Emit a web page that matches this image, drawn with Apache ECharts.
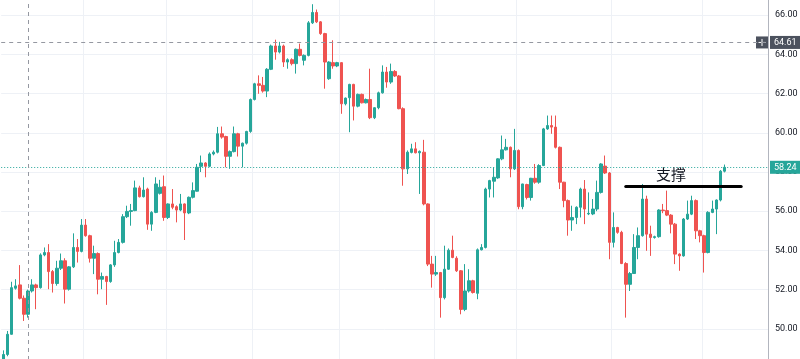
<!DOCTYPE html>
<html><head><meta charset="utf-8">
<script src="https://cdn.jsdelivr.net/npm/echarts@6/dist/echarts.min.js"></script>
<style>html,body{margin:0;padding:0;background:#fff}#c{width:800px;height:359px}</style>
</head><body><div id="c"></div>
<script>
// ---- data ----
const opens = [48.30,48.69,49.72,52.07,52.24,51.56,50.74,51.93,52.24,52.10,53.77,53.89,52.92,52.31,53.09,53.47,52.02,53.16,54.15,53.95,
55.29,54.75,53.60,53.84,52.53,52.67,52.41,53.26,53.89,54.41,55.72,55.99,56.03,57.19,56.74,57.13,55.34,55.94,56.91,57.25,
55.68,56.37,56.23,56.06,56.37,55.91,56.71,57.02,58.29,58.46,58.29,58.92,59.01,59.95,59.81,58.80,59.04,59.95,59.32,59.47,
60.07,61.70,62.50,62.42,62.13,63.24,64.43,64.12,64.43,63.61,63.73,63.53,64.26,63.70,63.95,65.61,66.14,65.66,65.06,62.76,
63.58,63.41,63.58,61.48,61.79,62.47,61.36,61.96,61.53,61.70,60.77,61.28,62.04,63.10,62.59,63.13,62.90,61.23,58.16,59.00,
59.18,58.98,59.01,56.37,53.30,52.79,52.87,51.59,53.04,54.01,53.60,52.96,50.99,51.93,52.45,51.81,54.03,54.15,57.13,57.53,
57.70,58.67,59.13,59.26,58.16,59.10,56.23,57.36,56.70,57.68,57.48,58.33,60.20,60.37,60.29,59.26,57.48,56.54,55.55,55.68,
56.20,57.13,55.86,55.86,56.11,56.96,58.30,57.95,54.41,55.17,54.92,53.33,52.27,52.82,54.15,54.75,56.62,54.83,54.66,54.70,
56.06,56.03,55.80,55.34,53.81,53.72,55.60,55.85,56.54,55.00,54.75,53.89,55.94,56.11,56.57,58.04];
const closes = [48.69,49.72,52.10,52.19,51.56,50.74,51.93,52.24,52.10,53.77,53.89,52.92,52.31,53.09,53.47,52.02,53.16,54.15,53.95,55.29,
54.75,53.60,53.84,52.53,52.67,52.41,53.26,53.89,54.41,55.72,55.99,56.03,57.19,56.74,57.08,55.34,55.94,57.39,57.22,55.68,
56.37,56.20,56.06,56.37,55.91,56.71,57.05,58.24,58.46,58.29,58.92,59.01,59.95,59.78,58.80,59.04,59.95,59.32,59.47,60.07,
61.70,62.50,62.42,62.13,63.24,64.43,64.12,64.43,63.61,63.73,63.53,64.26,63.95,63.95,65.61,66.14,65.66,65.06,63.61,63.61,
63.41,63.58,61.48,61.77,62.47,61.36,61.96,61.53,61.70,60.77,61.28,62.04,63.10,62.59,63.13,62.90,61.23,58.16,59.01,59.18,
58.98,59.05,56.37,53.30,52.79,52.87,51.59,53.04,54.01,53.64,52.96,50.99,51.93,52.45,51.85,54.03,54.15,57.13,57.56,57.73,
58.67,59.13,59.26,58.16,59.10,56.23,57.39,56.70,57.68,57.48,58.33,60.20,60.37,60.29,59.26,57.48,56.54,55.55,55.68,56.20,
57.13,56.11,55.89,56.11,56.96,58.41,57.95,54.41,55.17,54.92,53.33,52.27,52.82,54.15,54.75,56.62,54.83,54.66,54.70,56.06,
56.03,55.80,55.34,53.81,53.72,55.60,55.85,56.54,55.00,54.75,53.89,55.94,56.11,56.57,58.04,58.24];
const lows = [48.30,48.60,49.70,52.00,51.50,50.40,50.57,51.85,51.00,52.05,53.70,52.02,51.85,52.20,53.00,51.29,51.95,53.10,53.38,53.90,
54.70,53.38,52.79,51.76,52.02,51.22,52.35,53.16,53.85,54.35,55.65,55.26,56.00,56.70,56.70,55.05,55.00,55.90,56.85,55.51,
55.60,56.10,55.43,56.00,54.53,55.85,56.65,57.00,58.00,57.73,58.25,58.85,58.95,59.70,58.24,58.16,59.00,58.79,58.24,59.40,
60.00,61.65,61.99,62.05,61.82,63.20,63.73,64.05,63.36,63.27,63.44,63.02,63.90,63.44,63.90,65.55,65.60,65.00,62.25,62.70,
63.27,63.35,60.97,61.40,60.03,60.63,61.30,61.50,61.50,60.70,60.70,61.20,62.00,62.30,62.50,62.85,61.20,57.30,57.90,58.95,
58.95,56.88,56.30,53.20,52.10,52.70,50.57,51.50,53.00,53.60,52.90,50.74,50.90,51.85,51.80,51.51,54.00,54.10,56.70,56.70,
57.65,58.60,59.10,57.73,58.10,56.10,56.10,56.60,56.54,57.40,57.40,58.30,60.15,59.95,59.20,57.13,56.20,54.75,55.00,55.34,
55.68,55.34,55.80,55.80,56.00,56.90,57.90,53.55,54.15,54.85,53.30,50.57,51.93,52.80,53.55,54.70,53.98,53.72,54.60,54.65,
55.90,55.75,54.87,53.30,52.96,53.68,55.55,55.80,54.58,54.41,52.87,53.85,55.90,54.83,56.50,57.98];
const highs = [48.90,49.89,52.40,52.53,53.25,51.70,52.00,52.53,52.30,53.85,54.15,54.32,53.00,53.47,53.84,53.60,53.20,54.87,54.58,55.60,
55.60,54.80,54.24,53.90,52.87,52.70,53.30,54.49,54.58,55.85,56.28,56.37,57.56,57.30,57.73,57.20,56.00,57.73,57.60,57.82,
56.40,57.13,56.30,56.88,56.40,56.75,57.47,58.41,58.84,58.50,59.00,59.10,60.30,60.32,59.85,59.10,60.32,60.00,59.50,60.10,
61.75,62.55,62.93,62.85,63.30,64.50,64.75,64.64,64.50,63.80,63.80,64.30,64.55,64.00,65.70,66.56,66.29,65.70,65.10,63.65,
64.72,63.62,63.60,61.80,62.50,62.50,62.00,62.00,61.75,63.27,61.30,62.10,63.44,63.36,63.53,63.20,62.95,61.30,59.10,59.44,
59.52,59.10,59.64,56.40,53.72,53.72,52.90,54.24,54.10,54.75,53.70,53.00,53.30,53.04,52.50,54.10,54.32,57.20,57.60,58.24,
58.70,59.86,59.69,59.30,60.20,59.15,57.40,57.40,57.70,58.41,58.40,60.25,60.88,60.88,60.88,59.30,57.50,56.60,56.28,56.25,
57.20,57.59,56.96,56.62,57.56,58.45,58.84,58.00,55.94,55.20,55.00,53.40,52.90,54.83,55.17,57.39,56.79,55.26,54.75,56.10,
56.37,57.05,55.85,55.40,53.85,55.65,56.54,56.79,56.60,55.05,54.80,56.00,56.54,56.60,58.10,58.38];
const slotCount = 186;                       // bar slots on the time axis (incl. right margin)
const monthStarts = [20, 40, 61, 82, 105, 125, 148, 170];
const yMin = 48, yMax = 68, yStep = 2;
const lastPrice = 58.24;
const crossPrice = 64.61;
const crossIndex = 6;
const supportLevel = 57.25;
const supportFrom = 151, supportTo = 179;
const supportText = '支撑';
const supportTextAt = [162, 57.9];

// ---- layout ----
const W = 800, H = 359;
const G = {left: 1.2, right: 32, top: -24, bottom: -9};

// ---- chart ----
const categories = Array.from({length: slotCount}, (_, i) => String(i));
const candles = opens.map((o, i) => [o, closes[i], lows[i], highs[i]]);
const UP = '#26a69a', DOWN = '#ef5350';

const chart = echarts.init(document.getElementById('c'), null, {renderer: 'canvas'});
chart.setOption({
  animation: false,
  backgroundColor: '#ffffff',
  grid: {left: G.left, right: G.right, top: G.top, bottom: G.bottom,
         containLabel: false, outerBoundsMode: 'none'},
  xAxis: {
    type: 'category', data: categories, boundaryGap: true,
    axisLine: {show: false}, axisTick: {show: false}, axisLabel: {show: false},
    splitLine: {show: true, interval: (idx) => monthStarts.indexOf(idx) >= 0,
      lineStyle: {color: '#eef1f6', width: 1}}
  },
  yAxis: {
    type: 'value', position: 'right', min: yMin, max: yMax, interval: yStep,
    axisLine: {show: true, lineStyle: {color: '#b2b5be', width: 1}},
    axisTick: {show: false},
    splitLine: {show: true, lineStyle: {color: '#eef1f6', width: 1}},
    axisLabel: {color: '#131722', fontSize: 9, fontFamily: 'Roboto', margin: 7,
      formatter: v => v.toFixed(2)}
  },
  series: [{
    type: 'candlestick',
    data: candles,
    barWidth: 3,
    itemStyle: {color: UP, color0: DOWN, borderColor: UP, borderColor0: DOWN, borderWidth: 1},
    markLine: {
      silent: true, symbol: ['none', 'none'], animation: false,
      data: [
        {yAxis: lastPrice,
         lineStyle: {color: UP, type: [1, 2], width: 1},
         label: {show: true, position: 'end', distance: 2, formatter: lastPrice.toFixed(2),
           backgroundColor: UP, color: '#fff', fontSize: 9, fontFamily: 'Roboto',
           padding: [2, 4, 2, 4]}},
        {yAxis: crossPrice,
         lineStyle: {color: '#9598a1', type: [4, 4], width: 1},
         label: {show: true, position: 'end', distance: 2, formatter: crossPrice.toFixed(2),
           backgroundColor: '#4c525e', color: '#fff', fontSize: 9, fontFamily: 'Roboto',
           padding: [2, 4, 2, 4]}},
        {xAxis: crossIndex,
         lineStyle: {color: '#9598a1', type: [4, 4], width: 1},
         label: {show: false}},
        [{coord: [supportFrom, supportLevel]}, {coord: [supportTo, supportLevel],
          lineStyle: {color: '#000', width: 3, type: 'solid', cap: 'round'},
          label: {show: false}}]
      ]
    },
    markPoint: {
      silent: true, animation: false,
      data: [{coord: supportTextAt, symbol: 'rect', symbolSize: 1,
        itemStyle: {color: 'rgba(0,0,0,0)'},
        label: {show: true, position: 'inside', formatter: supportText,
          color: '#131722', fontSize: 15, fontFamily: 'Noto Sans CJK SC'}}]
    }
  }]
});

// crosshair "+" button next to the price label (position derived from the grid layout)
const plotH = H - G.top - G.bottom;
const cy = G.top + (yMax - crossPrice) / (yMax - yMin) * plotH;
const gx = W - G.right;
chart.setOption({
  graphic: [{
    type: 'group', silent: true, z: 100,
    children: [
      {type: 'rect', shape: {x: gx - 12, y: cy - 6, width: 12, height: 12}, style: {fill: '#4c525e'}},
      {type: 'line', shape: {x1: gx - 9.5, y1: cy, x2: gx - 2.5, y2: cy}, style: {stroke: '#fff', lineWidth: 1}},
      {type: 'line', shape: {x1: gx - 6, y1: cy - 3.5, x2: gx - 6, y2: cy + 3.5}, style: {stroke: '#fff', lineWidth: 1}}
    ]
  }]
});
</script>
</body></html>
